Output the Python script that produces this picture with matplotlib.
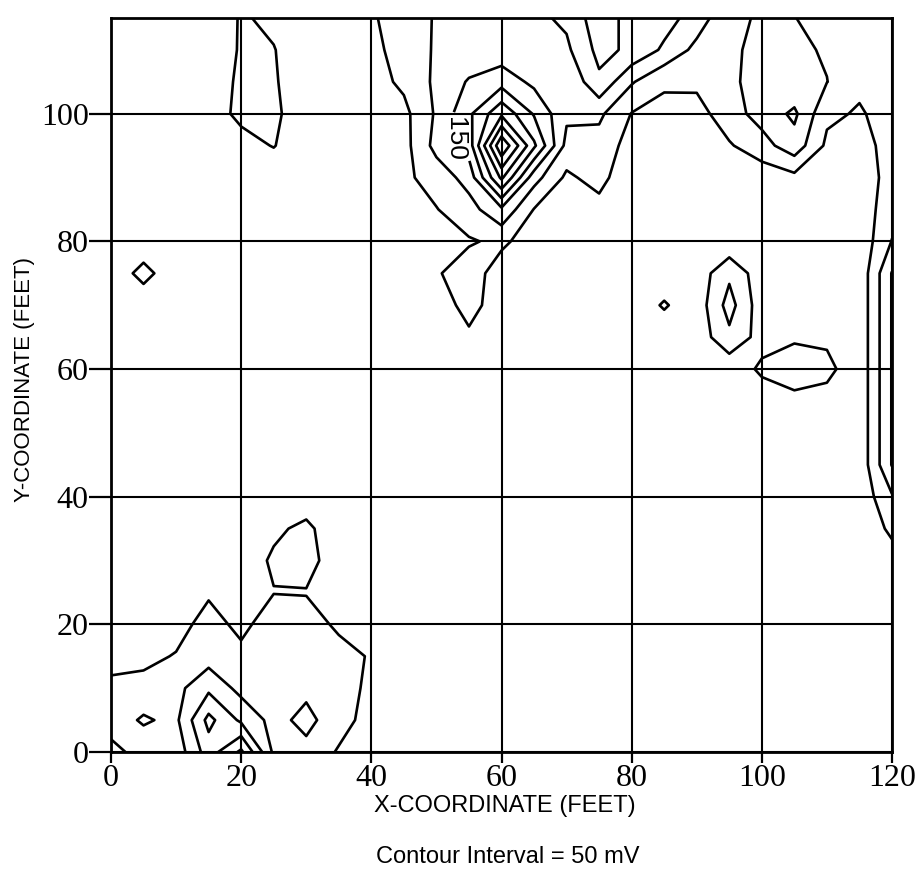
import matplotlib
matplotlib.use("Agg")
import matplotlib.pyplot as plt
import numpy as np

# grid node coordinates (feet)
x_ft = [0, 5, 10, 15, 20, 25, 30, 35, 40, 45, 50, 55, 60, 65, 70, 75, 80, 85, 90, 95, 100, 105, 110, 115, 120]
y_ft = [0, 5, 10, 15, 20, 25, 30, 35, 40, 45, 50, 55, 60, 65, 70, 75, 80, 85, 90, 95, 100, 105, 110, 115]

# contour levels (mV), interval 50 mV
levels_mv = [50, 100, 150, 200, 250, 300, 350, 400]
label_level = 150
x_ticks = [0, 20, 40, 60, 80, 100, 120]
y_ticks = [0, 20, 40, 60, 80, 100]

# readings (mV) per row of constant y, columns follow x_ft
mv_y000 = [30, 75, 70, 175, 260, 90, 85, 45, 20, 20, 20, 20, 20, 20, 20, 20, 20, 20, 20, 20, 20, 20, 20, 20, 20]
mv_y005 = [80, 105, 90, 215, 140, 83, 115, 70, 30, 20, 20, 20, 20, 20, 20, 20, 20, 20, 20, 20, 20, 20, 20, 20, 20]
mv_y010 = [70, 75, 85, 139, 84, 80, 88, 70, 40, 20, 20, 20, 20, 20, 20, 20, 20, 20, 20, 20, 20, 20, 20, 20, 20]
mv_y015 = [20, 30, 55, 78, 70, 90, 85, 70, 45, 20, 20, 20, 20, 20, 20, 20, 20, 20, 20, 20, 20, 20, 20, 20, 20]
mv_y020 = [10, 15, 20, 80, 30, 90, 75, 40, 20, 20, 20, 20, 20, 20, 20, 20, 20, 20, 20, 20, 20, 20, 20, 20, 20]
mv_y025 = [5, 10, 15, 40, 25, 48, 47, 25, 15, 20, 20, 20, 20, 20, 20, 20, 20, 20, 20, 20, 20, 20, 20, 20, 20]
mv_y030 = [10, 10, 15, 20, 20, 58, 70, 20, 15, 20, 20, 20, 20, 20, 20, 20, 20, 20, 20, 20, 20, 20, 20, 20, 30]
mv_y035 = [10, 10, 15, 20, 20, 40, 62, 15, 15, 20, 20, 20, 20, 20, 20, 20, 20, 20, 20, 20, 20, 20, 20, 15, 60]
mv_y040 = [15, 15, 15, 15, 15, 15, 20, 15, 15, 20, 20, 20, 20, 20, 20, 20, 20, 20, 20, 20, 20, 20, 20, 14, 95]
mv_y045 = [20, 20, 20, 20, 20, 20, 20, 20, 20, 20, 20, 20, 20, 20, 20, 20, 20, 20, 20, 20, 20, 20, 20, 14, 153]
mv_y050 = [20, 20, 20, 20, 20, 20, 20, 20, 20, 20, 20, 20, 20, 20, 20, 20, 20, 20, 20, 20, 20, 20, 20, 14, 153]
mv_y055 = [20, 20, 20, 20, 20, 20, 20, 20, 20, 20, 20, 20, 20, 20, 20, 20, 20, 20, 20, 20, 20, 40, 30, 14, 153]
mv_y060 = [20, 20, 20, 20, 20, 20, 20, 20, 20, 20, 20, 20, 20, 20, 20, 20, 20, 20, 20, 15, 60, 70, 65, 14, 153]
mv_y065 = [20, 20, 20, 20, 20, 20, 20, 20, 20, 20, 20, 40, 20, 20, 20, 20, 20, 20, 20, 88, 30, 45, 40, 14, 153]
mv_y070 = [20, 20, 20, 20, 20, 20, 20, 20, 20, 20, 20, 70, 20, 20, 20, 20, 20, 55, 20, 120, 20, 20, 20, 14, 153]
mv_y075 = [20, 65, 20, 20, 20, 20, 20, 20, 20, 20, 45, 75, 25, 20, 20, 20, 20, 20, 20, 90, 20, 20, 20, 14, 153]
mv_y080 = [20, 20, 20, 20, 20, 20, 20, 20, 20, 20, 35, 45, 60, 25, 20, 20, 20, 20, 20, 10, 20, 20, 20, 14, 102]
mv_y085 = [20, 20, 20, 20, 20, 20, 20, 20, 20, 25, 48, 80, 140, 48, 20, 30, 20, 20, 20, 20, 20, 20, 20, 20, 80]
mv_y090 = [20, 20, 20, 20, 20, 20, 20, 20, 20, 40, 70, 120, 310, 120, 40, 70, 5, 15, 15, 15, 20, 36, 20, 20, 70]
mv_y095 = [15, 15, 15, 15, 35, 52, 20, 15, 20, 32, 117, 172, 445, 260, 84, 80, 30, 20, 20, 45, 80, 130, 40, 30, 70]
mv_y100 = [15, 15, 15, 30, 60, 60, 20, 15, 20, 36, 107, 190, 290, 195, 110, 110, 48, 40, 31, 78, 120, 160, 60, 45, 70]
mv_y105 = [10, 10, 10, 20, 60, 55, 20, 20, 30, 60, 110, 155, 180, 138, 105, 190, 105, 55, 60, 85, 130, 110, 101, 60, 60]
mv_y110 = [10, 10, 10, 10, 56, 52, 20, 20, 40, 65, 107, 115, 120, 130, 140, 215, 190, 141, 85, 90, 115, 110, 95, 60, 60]
mv_y115 = [10, 10, 10, 10, 55, 40, 20, 20, 45, 70, 105, 115, 120, 138, 160, 230, 180, 171, 127, 60, 120, 102, 70, 60, 60]

Z = np.array([mv_y000, mv_y005, mv_y010, mv_y015, mv_y020, mv_y025, mv_y030, mv_y035,
              mv_y040, mv_y045, mv_y050, mv_y055, mv_y060, mv_y065, mv_y070, mv_y075,
              mv_y080, mv_y085, mv_y090, mv_y095, mv_y100, mv_y105, mv_y110, mv_y115], dtype=float)

W, H = 919, 890
fig = plt.figure(figsize=(W / 100, H / 100), dpi=100)
ax = fig.add_axes([111 / W, 1 - 752 / H, (892 - 111) / W, (752 - 18) / H])

other_levels = [lv for lv in levels_mv if lv != label_level]
ax.contour(x_ft, y_ft, Z, levels=other_levels, colors="black", linewidths=1.9)
cs_lab = ax.contour(x_ft, y_ft, Z, levels=[label_level], colors="black", linewidths=1.9)
labels = ax.clabel(cs_lab, manual=[(52.6, 96.0)], fmt="%d", fontsize=19,
                   inline=True, inline_spacing=2)
for t in labels:
    t.set_rotation(270)
    t.set_family("Liberation Sans")

ax.set_xlim(0, 120)
ax.set_ylim(0, 115)
ax.set_xticks(x_ticks)
ax.set_yticks(y_ticks)
ax.grid(True, color="black", linewidth=1.5)
for s in ax.spines.values():
    s.set_linewidth(2.0)
ax.tick_params(axis="x", direction="out", length=8, width=1.6, pad=1, labelsize=23)
ax.tick_params(axis="y", direction="out", length=16, width=1.6, pad=0, labelsize=23)
for lab in ax.get_xticklabels() + ax.get_yticklabels():
    lab.set_family("Liberation Serif")

fig.text(505 / W, 1 - 806 / H, "X-COORDINATE (FEET)", ha="center", va="center",
         fontsize=17, family="Liberation Sans")
fig.text(25 / W, 1 - 380 / H, "Y-COORDINATE (FEET)", ha="center", va="center",
         rotation=90, fontsize=16, family="Liberation Sans")
fig.text(508 / W, 1 - 857 / H, "Contour Interval = 50 mV", ha="center", va="center",
         fontsize=17, family="Liberation Sans")

fig.savefig("out.png", dpi=100)
